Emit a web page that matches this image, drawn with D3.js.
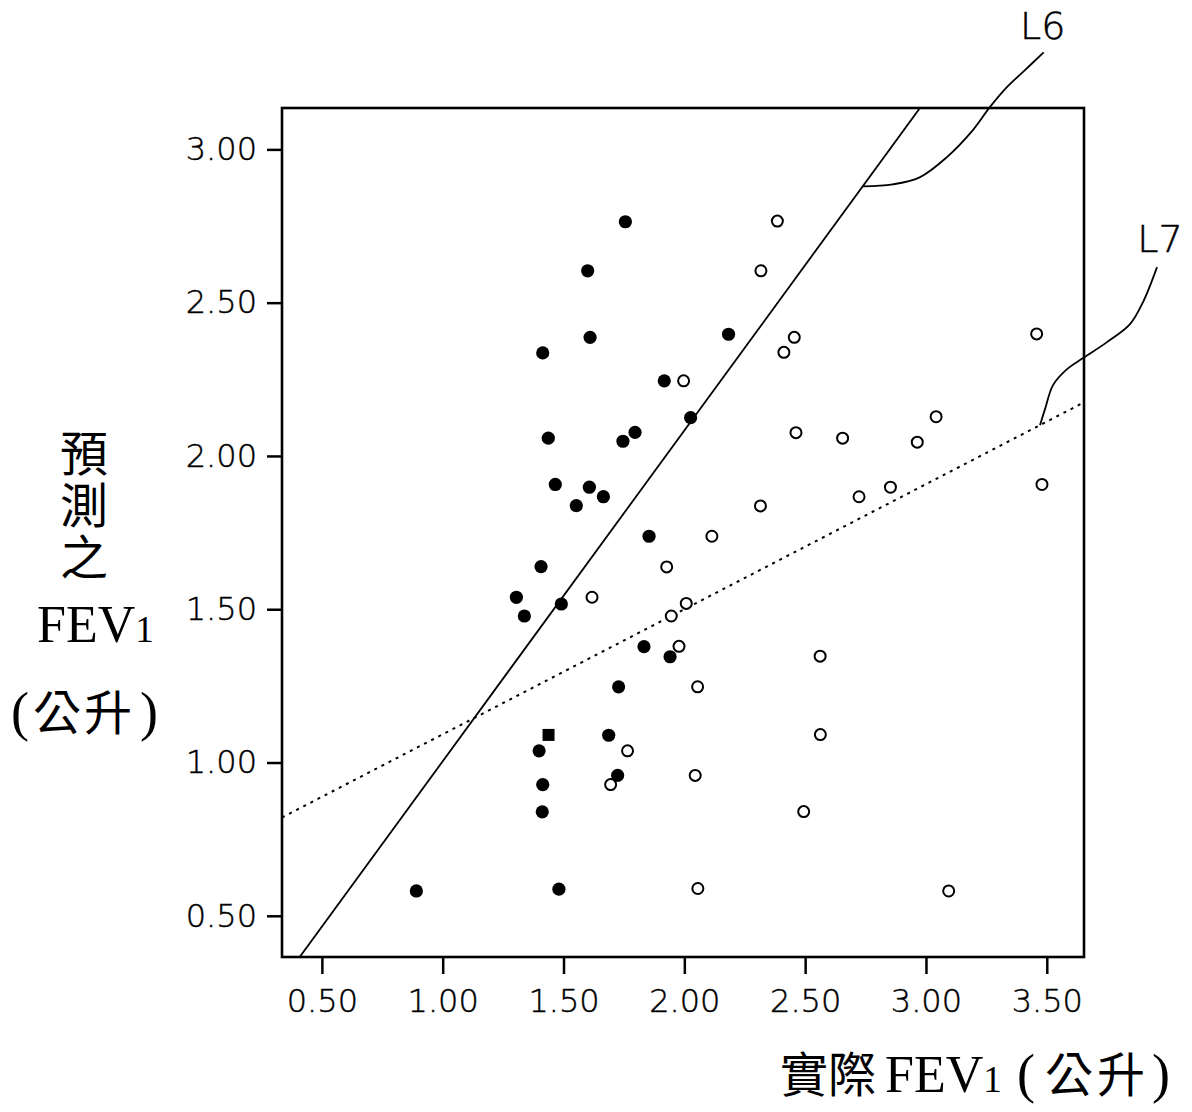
<!DOCTYPE html>
<html>
<head>
<meta charset="utf-8">
<script src="https://cdn.jsdelivr.net/npm/d3@7"></script>
<style>
  html, body { margin: 0; padding: 0; background: #ffffff; }
  svg { display: block; }
</style>
</head>
<body>
<div id="chart"></div>
<script>
// ---------- data ----------
const xTicks = [0.5, 1.0, 1.5, 2.0, 2.5, 3.0, 3.5];
const yTicks = [0.5, 1.0, 1.5, 2.0, 2.5, 3.0];

// filled markers (actual FEV1, predicted FEV1)
const filledX = [1.756, 1.600, 1.610, 1.414, 2.183, 1.917, 2.026, 1.437, 1.746, 1.796,
                 1.466, 1.607, 1.665, 1.553, 1.854, 1.407, 1.305, 1.338, 1.491, 1.833,
                 1.941, 1.728, 1.399, 1.687, 1.724, 1.414, 1.412, 0.891, 1.481];
const filledY = [2.764, 2.604, 2.387, 2.336, 2.397, 2.245, 2.125, 2.058, 2.048, 2.077,
                 1.907, 1.898, 1.867, 1.838, 1.738, 1.639, 1.539, 1.478, 1.517, 1.378,
                 1.345, 1.247, 1.038, 1.089, 0.958, 0.928, 0.839, 0.581, 0.587];
// filled square marker
const squareX = [1.438];
const squareY = [1.090];

// hollow markers
const hollowX = [2.385, 2.317, 2.455, 2.412, 3.458, 1.997, 3.042, 2.462, 2.655, 2.964,
                 3.480, 2.853, 2.723, 2.315, 2.114, 1.927, 1.618, 2.008, 1.946, 1.978,
                 2.562, 2.055, 2.563, 1.765, 1.695, 2.045, 2.494, 2.056, 3.094];
const hollowY = [2.766, 2.604, 2.387, 2.338, 2.398, 2.245, 2.128, 2.076, 2.058, 2.045,
                 1.907, 1.898, 1.867, 1.837, 1.738, 1.638, 1.539, 1.519, 1.478, 1.379,
                 1.347, 1.247, 1.091, 1.038, 0.928, 0.958, 0.840, 0.589, 0.581];

// regression lines
const lineNames = ["L6", "L7"];
const lineSlopes = [1.079, 0.408];
const lineIntercepts = [-0.075, 0.684];
const lineAnchorX = [2.738, 3.472];   // where the leader line touches each line

// axis titles
const yTitleTop = "預測之";
const unitChars = ["公", "升"];

// ---------- layout ----------
const W = 1192, H = 1112;
const M = { left: 282, right: 1084, top: 108, bottom: 957 };

const x = d3.scaleLinear().domain([0.335, 3.654]).range([M.left, M.right]);
const y = d3.scaleLinear().domain([0.3656, 3.135]).range([M.bottom, M.top]);

const svg = d3.select("#chart").append("svg")
  .attr("width", W).attr("height", H)
  .attr("viewBox", `0 0 ${W} ${H}`);

const tickFont = "'DejaVu Sans', sans-serif";
const serif = "'Liberation Serif', 'DejaVu Serif', serif";
const cjk = "'Noto Sans CJK TC', 'Noto Sans CJK SC', sans-serif";

svg.append("defs").append("clipPath").attr("id", "plotclip")
  .append("rect").attr("x", M.left).attr("y", M.top)
  .attr("width", M.right - M.left).attr("height", M.bottom - M.top);

// ---------- axes ----------
const xAxis = d3.axisBottom(x).tickValues(xTicks).tickFormat(d3.format(".2f"))
  .tickSizeInner(17).tickSizeOuter(0).tickPadding(15);
const yAxis = d3.axisLeft(y).tickValues(yTicks).tickFormat(d3.format(".2f"))
  .tickSizeInner(15).tickSizeOuter(0).tickPadding(10);

const gx = svg.append("g").attr("transform", `translate(0,${M.bottom})`).call(xAxis);
const gy = svg.append("g").attr("transform", `translate(${M.left},0)`).call(yAxis);
[gx, gy].forEach(g => {
  g.select(".domain").remove();
  g.selectAll(".tick line").attr("stroke", "#000").attr("stroke-width", 2.5);
  g.selectAll(".tick text").attr("fill", "#000")
    .attr("stroke", "#000").attr("stroke-width", 0.45)
    .style("font-family", tickFont).style("font-size", "32px").style("font-weight", 200);
});

// frame
svg.append("rect")
  .attr("x", M.left).attr("y", M.top)
  .attr("width", M.right - M.left).attr("height", M.bottom - M.top)
  .attr("fill", "none").attr("stroke", "#000").attr("stroke-width", 2.6);

// ---------- regression lines ----------
const plot = svg.append("g").attr("clip-path", "url(#plotclip)");
const xd = x.domain();
lineNames.forEach((name, i) => {
  const pts = xd.map(v => [v, lineSlopes[i] * v + lineIntercepts[i]]);
  plot.append("path")
    .attr("d", d3.line().x(d => x(d[0])).y(d => y(d[1]))(pts))
    .attr("fill", "none").attr("stroke", "#000")
    .attr("stroke-width", i === 0 ? 1.8 : 2)
    .attr("stroke-dasharray", i === 0 ? null : "3,5");
});

// ---------- points ----------
const filled = filledX.map((v, i) => [v, filledY[i]]);
const hollow = hollowX.map((v, i) => [v, hollowY[i]]);
const squares = squareX.map((v, i) => [v, squareY[i]]);

plot.selectAll("circle.hollow").data(hollow).join("circle")
  .attr("class", "hollow")
  .attr("cx", d => x(d[0])).attr("cy", d => y(d[1])).attr("r", 5.5)
  .attr("fill", "#fff").attr("stroke", "#000").attr("stroke-width", 2);

plot.selectAll("circle.filled").data(filled).join("circle")
  .attr("class", "filled")
  .attr("cx", d => x(d[0])).attr("cy", d => y(d[1])).attr("r", 6.6)
  .attr("fill", "#000");

plot.selectAll("rect.sq").data(squares).join("rect")
  .attr("class", "sq")
  .attr("x", d => x(d[0]) - 6).attr("y", d => y(d[1]) - 6)
  .attr("width", 12).attr("height", 12).attr("fill", "#000");

// ---------- leader lines + labels ----------
const leaderOffsets = [
  [[0,0],[30,-2],[57,-9],[84,-29],[110,-56],[127,-79],[144,-99],[162,-116],[181,-134]],
  [[0,0],[5,-16],[13,-40],[27,-56],[43,-67],[67,-83],[90,-101],[103,-123],[117,-158]]
];
const labelOffsets = [[180, -147], [120, -173]];
const leader = d3.line().curve(d3.curveCatmullRom.alpha(0.5));
lineNames.forEach((name, i) => {
  const ax = x(lineAnchorX[i]);
  const ay = y(lineSlopes[i] * lineAnchorX[i] + lineIntercepts[i]);
  svg.append("path")
    .attr("d", leader(leaderOffsets[i].map(o => [ax + o[0], ay + o[1]])))
    .attr("fill", "none").attr("stroke", "#000").attr("stroke-width", 1.8);
  svg.append("text")
    .attr("x", ax + labelOffsets[i][0]).attr("y", ay + labelOffsets[i][1])
    .attr("text-anchor", "middle")
    .attr("stroke", "#000").attr("stroke-width", 0.5)
    .style("font-family", tickFont).style("font-size", "38px").style("font-weight", 200)
    .attr("fill", "#000").text(name);
});

// ---------- y title (stacked) ----------
svg.append("text")
  .attr("x", 84).attr("y", 429)
  .style("writing-mode", "vertical-rl")
  .style("font-family", cjk).style("font-size", "48px")
  .style("letter-spacing", "4px")
  .attr("fill", "#000")
  .text(yTitleTop);

const fevY = svg.append("text").attr("x", 37).attr("y", 642).attr("fill", "#000");
fevY.append("tspan").style("font-family", serif).style("font-size", "52px").text("FEV");
fevY.append("tspan").style("font-family", serif).style("font-size", "37px").text("1");

const unitY = svg.append("text").attr("y", 730).attr("fill", "#000");
unitY.append("tspan").attr("x", 11)
  .style("font-family", serif).style("font-size", "54px").text("(");
unitY.append("tspan").attr("x", 33)
  .style("font-family", cjk).style("font-size", "48px").text(unitChars[0]);
unitY.append("tspan").attr("x", 84)
  .style("font-family", cjk).style("font-size", "48px").text(unitChars[1]);
unitY.append("tspan").attr("x", 140)
  .style("font-family", serif).style("font-size", "54px").text(")");

// ---------- x title ----------
const xT = svg.append("text").attr("y", 1092).attr("fill", "#000");
xT.append("tspan").attr("x", 780)
  .style("font-family", cjk).style("font-size", "48px").text("實際");
xT.append("tspan").attr("x", 885)
  .style("font-family", serif).style("font-size", "52px").text("FEV");
xT.append("tspan").style("font-family", serif).style("font-size", "37px").text("1");
xT.append("tspan").attr("x", 1017)
  .style("font-family", serif).style("font-size", "54px").text("(");
xT.append("tspan").attr("x", 1045)
  .style("font-family", cjk).style("font-size", "48px").text(unitChars[0]);
xT.append("tspan").attr("x", 1097)
  .style("font-family", cjk).style("font-size", "48px").text(unitChars[1]);
xT.append("tspan").attr("x", 1152)
  .style("font-family", serif).style("font-size", "54px").text(")");
</script>
</body>
</html>
